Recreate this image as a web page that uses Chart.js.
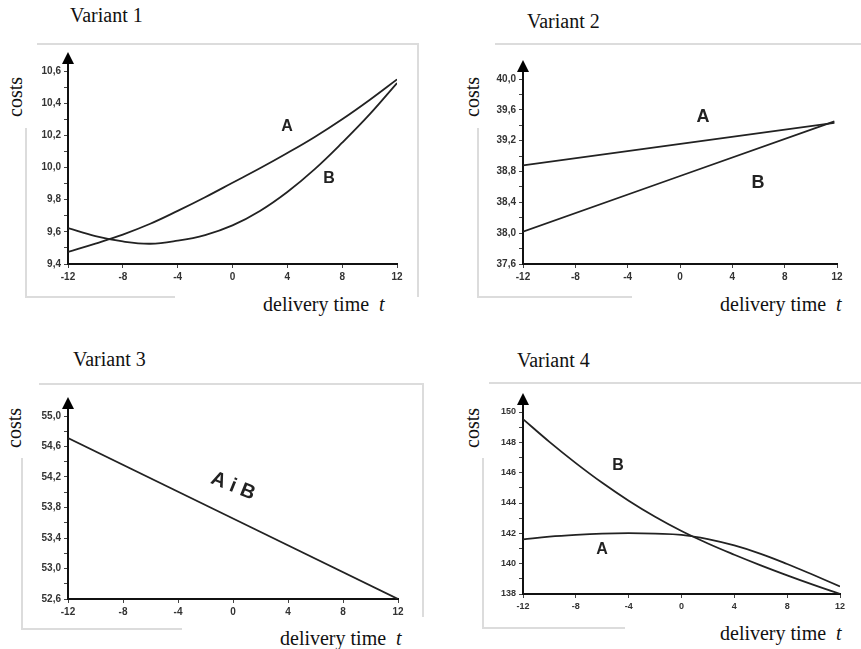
<!DOCTYPE html>
<html lang="en">
<head>
    <meta charset="UTF-8">
    <title>Delivery time costs - variants</title>
    <script src="https://cdn.jsdelivr.net/npm/chart.js"></script>
    <style>
        body {
            margin: 0;
            background: #fff;
        }
        #page {
            position: relative;
            width: 861px;
            height: 649px;
            overflow: hidden;
            background: #fff;
            font-family: 'Liberation Serif', 'Times New Roman', serif;
            color: #111;
        }
        canvas, .txt, .frame {
            position: absolute;
        }
        .txt {
            font-size: 20px;
            line-height: 20px;
            white-space: nowrap;
        }
        .costs {
            transform: translate(-50%, -50%) rotate(-90deg);
        }
        .frame {
            background: #dcdcdc;
        }
    </style>
</head>
<body>
<div id="page">
    <div class="txt" style="left:70px; top:5px;">Variant 1</div>
    <div class="txt" style="left:527px; top:11px;">Variant 2</div>
    <div class="txt" style="left:73px; top:349px;">Variant 3</div>
    <div class="txt" style="left:517px; top:350px;">Variant 4</div>

    <div class="txt costs" style="left:15px; top:97px;">costs</div>
    <div class="txt costs" style="left:472px; top:97px;">costs</div>
    <div class="txt costs" style="left:14px; top:428px;">costs</div>
    <div class="txt costs" style="left:472px; top:428px;">costs</div>

    <div class="txt" style="left:263px; top:294px;">delivery time&nbsp; <i>t</i></div>
    <div class="txt" style="left:720px; top:294px;">delivery time&nbsp; <i>t</i></div>
    <div class="txt" style="left:280px; top:628px;">delivery time&nbsp; <i>t</i></div>
    <div class="txt" style="left:720px; top:623px;">delivery time&nbsp; <i>t</i></div>

    <!-- light frame lines around each panel -->
    <div class="frame" style="left:37px; top:43px; width:381px; height:2px;"></div>
    <div class="frame" style="left:417px; top:43px; width:2px; height:254px;"></div>
    <div class="frame" style="left:25px; top:128px; width:2px; height:170px;"></div>
    <div class="frame" style="left:25px; top:296px; width:150px; height:2px;"></div>

    <div class="frame" style="left:495px; top:43px; width:366px; height:2px;"></div>
    <div class="frame" style="left:477px; top:128px; width:2px; height:170px;"></div>
    <div class="frame" style="left:477px; top:296px; width:155px; height:2px;"></div>

    <div class="frame" style="left:39px; top:383px; width:384px; height:2px;"></div>
    <div class="frame" style="left:422px; top:383px; width:2px; height:234px;"></div>
    <div class="frame" style="left:21px; top:458px; width:2px; height:172px;"></div>
    <div class="frame" style="left:21px; top:628px; width:161px; height:2px;"></div>

    <div class="frame" style="left:489px; top:382px; width:372px; height:2px;"></div>
    <div class="frame" style="left:482px; top:458px; width:2px; height:171px;"></div>
    <div class="frame" style="left:482px; top:627px; width:143px; height:2px;"></div>

    <canvas id="c1" width="430" height="290" style="left:0; top:30px;"></canvas>
    <canvas id="c2" width="430" height="290" style="left:431px; top:30px;"></canvas>
    <canvas id="c3" width="430" height="279" style="left:0; top:370px;"></canvas>
    <canvas id="c4" width="430" height="279" style="left:431px; top:370px;"></canvas>
</div>

<script>
    // ---- data ----
    const xTicks = [-12, -8, -4, 0, 4, 8, 12];
    const tGrid = [-12, -10, -8, -6, -4, -2, 0, 2, 4, 6, 8, 10, 12];

    // Variant 1
    const v1A = [9.475, 9.527, 9.583, 9.65, 9.73, 9.815, 9.905, 9.995, 10.09, 10.19, 10.30, 10.42, 10.548];
    const v1B = [9.623, 9.573, 9.54, 9.526, 9.545, 9.58, 9.64, 9.73, 9.848, 9.99, 10.154, 10.33, 10.525];
    const y1Ticks = [9.4, 9.6, 9.8, 10.0, 10.2, 10.4, 10.6];

    // Variant 2
    const t2 = [-12, 11.8];
    const v2A = [38.88, 39.43];
    const v2B = [38.02, 39.45];
    const y2Ticks = [37.6, 38.0, 38.4, 38.8, 39.2, 39.6, 40.0];

    // Variant 3 (A and B coincide)
    const t3 = [-12, 12];
    const v3AB = [54.71, 52.6];
    const y3Ticks = [52.6, 53.0, 53.4, 53.8, 54.2, 54.6, 55.0];

    // Variant 4
    const v4A = [141.6, 141.78, 141.9, 141.98, 142.01, 141.98, 141.9, 141.62, 141.2, 140.65, 139.98, 139.25, 138.5];
    const v4B = [149.53, 148.03, 146.63, 145.33, 144.15, 143.09, 142.15, 141.33, 140.59, 139.89, 139.23, 138.6, 138.0];
    const y4Ticks = [138, 140, 142, 144, 146, 148, 150];

    // ---- drawing ----
    const LINE = '#222';
    const SANS = "'Liberation Sans', Arial, sans-serif";
    const YW = 45, XH = 24;

    const extras = {
        id: 'extras',
        afterDraw(chart, args, opts) {
            const { ctx, chartArea } = chart;
            const xs = chart.scales.x, ys = chart.scales.y;
            ctx.save();
            // y axis arrow
            const ax = Math.round(chartArea.left);
            const top = chartArea.top - opts.arrow;
            ctx.strokeStyle = '#111';
            ctx.lineWidth = 2;
            ctx.beginPath();
            ctx.moveTo(ax, chartArea.top);
            ctx.lineTo(ax, top + 6);
            ctx.stroke();
            ctx.fillStyle = '#000';
            ctx.beginPath();
            ctx.moveTo(ax, top);
            ctx.lineTo(ax - 6, top + 12);
            ctx.lineTo(ax + 6, top + 12);
            ctx.closePath();
            ctx.fill();
            // curve labels
            ctx.fillStyle = '#222';
            ctx.textAlign = 'center';
            ctx.textBaseline = 'middle';
            opts.labels.forEach(l => {
                ctx.save();
                ctx.translate(xs.getPixelForValue(l.t), ys.getPixelForValue(l.v));
                if (l.rot) ctx.rotate(l.rot * Math.PI / 180);
                ctx.font = l.font || ('bold 16px ' + SANS);
                ctx.fillText(l.text, 0, 0);
                ctx.restore();
            });
            ctx.restore();
        }
    };

    function series(ts, vs) {
        return ts.map((t, i) => ({ x: t, y: vs[i] }));
    }

    function makePanel(id, canvasBox, area, yTicks, minorStep, decimals, fontSize, datasets, labels) {
        const major = yTicks[1] - yTicks[0];
        const yMin = yTicks[0], yMax = yTicks[yTicks.length - 1];
        const tickFont = { family: SANS, size: fontSize, weight: 'bold' };
        new Chart(document.getElementById(id), {
            type: 'line',
            data: {
                datasets: datasets.map(d => ({
                    data: d,
                    borderColor: LINE,
                    borderWidth: 1.8,
                    pointRadius: 0,
                    fill: false,
                    tension: 0.4
                }))
            },
            options: {
                responsive: false,
                animation: false,
                events: [],
                layout: {
                    padding: {
                        left: area.left - canvasBox.left - YW,
                        right: canvasBox.left + canvasBox.w - area.right,
                        top: area.top - canvasBox.top,
                        bottom: canvasBox.top + canvasBox.h - area.bottom - XH
                    }
                },
                plugins: {
                    legend: { display: false },
                    tooltip: { enabled: false },
                    extras: { arrow: 19, labels: labels }
                },
                scales: {
                    x: {
                        type: 'linear',
                        min: -12,
                        max: 12,
                        afterFit: s => { s.height = XH; },
                        afterBuildTicks: s => { s.ticks = xTicks.map(v => ({ value: v })); },
                        ticks: {
                            font: tickFont,
                            color: '#333',
                            padding: 3,
                            maxRotation: 0,
                            autoSkip: false,
                            callback: v => String(v)
                        },
                        grid: { drawOnChartArea: false, tickLength: 4, color: '#444' },
                        border: { color: '#111', width: 2 }
                    },
                    y: {
                        min: yMin,
                        max: yMax,
                        afterFit: s => { s.width = YW; },
                        ticks: {
                            stepSize: minorStep,
                            autoSkip: false,
                            font: tickFont,
                            color: '#333',
                            padding: 3,
                            callback: v => {
                                const k = (v - yMin) / major;
                                if (Math.abs(k - Math.round(k)) > 1e-6) return '';
                                return v.toFixed(decimals).replace('.', ',');
                            }
                        },
                        grid: { drawOnChartArea: false, tickLength: 4, color: '#444' },
                        border: { color: '#111', width: 2 }
                    }
                }
            },
            plugins: [extras]
        });
    }

    makePanel('c1', { left: 0, top: 30, w: 430, h: 290 }, { left: 68, right: 397, top: 71, bottom: 264 },
        y1Ticks, 0.1, 1, 10,
        [series(tGrid, v1A), series(tGrid, v1B)],
        [{ text: 'A', t: 3.97, v: 10.257 }, { text: 'B', t: 7.04, v: 9.928 }]);

    makePanel('c2', { left: 431, top: 30, w: 430, h: 290 }, { left: 523, right: 837, top: 79, bottom: 264 },
        y2Ticks, 0.2, 1, 10,
        [series(t2, v2A), series(t2, v2B)],
        [{ text: 'A', t: 1.76, v: 39.51, font: 'bold 18px ' + SANS }, { text: 'B', t: 5.97, v: 38.65, font: 'bold 18px ' + SANS }]);

    makePanel('c3', { left: 0, top: 370, w: 430, h: 279 }, { left: 68, right: 398, top: 416, bottom: 599 },
        y3Ticks, 0.2, 1, 10,
        [series(t3, v3AB)],
        [{ text: 'A i B', t: 0.0, v: 54.08, rot: 22, font: 'bold 20px ' + SANS }]);

    makePanel('c4', { left: 431, top: 370, w: 430, h: 279 }, { left: 523, right: 840, top: 412, bottom: 594 },
        y4Ticks, 1, 0, 9,
        [series(tGrid, v4A), series(tGrid, v4B)],
        [{ text: 'B', t: -4.81, v: 146.44 }, { text: 'A', t: -6.02, v: 140.9 }]);
</script>
</body>
</html>
